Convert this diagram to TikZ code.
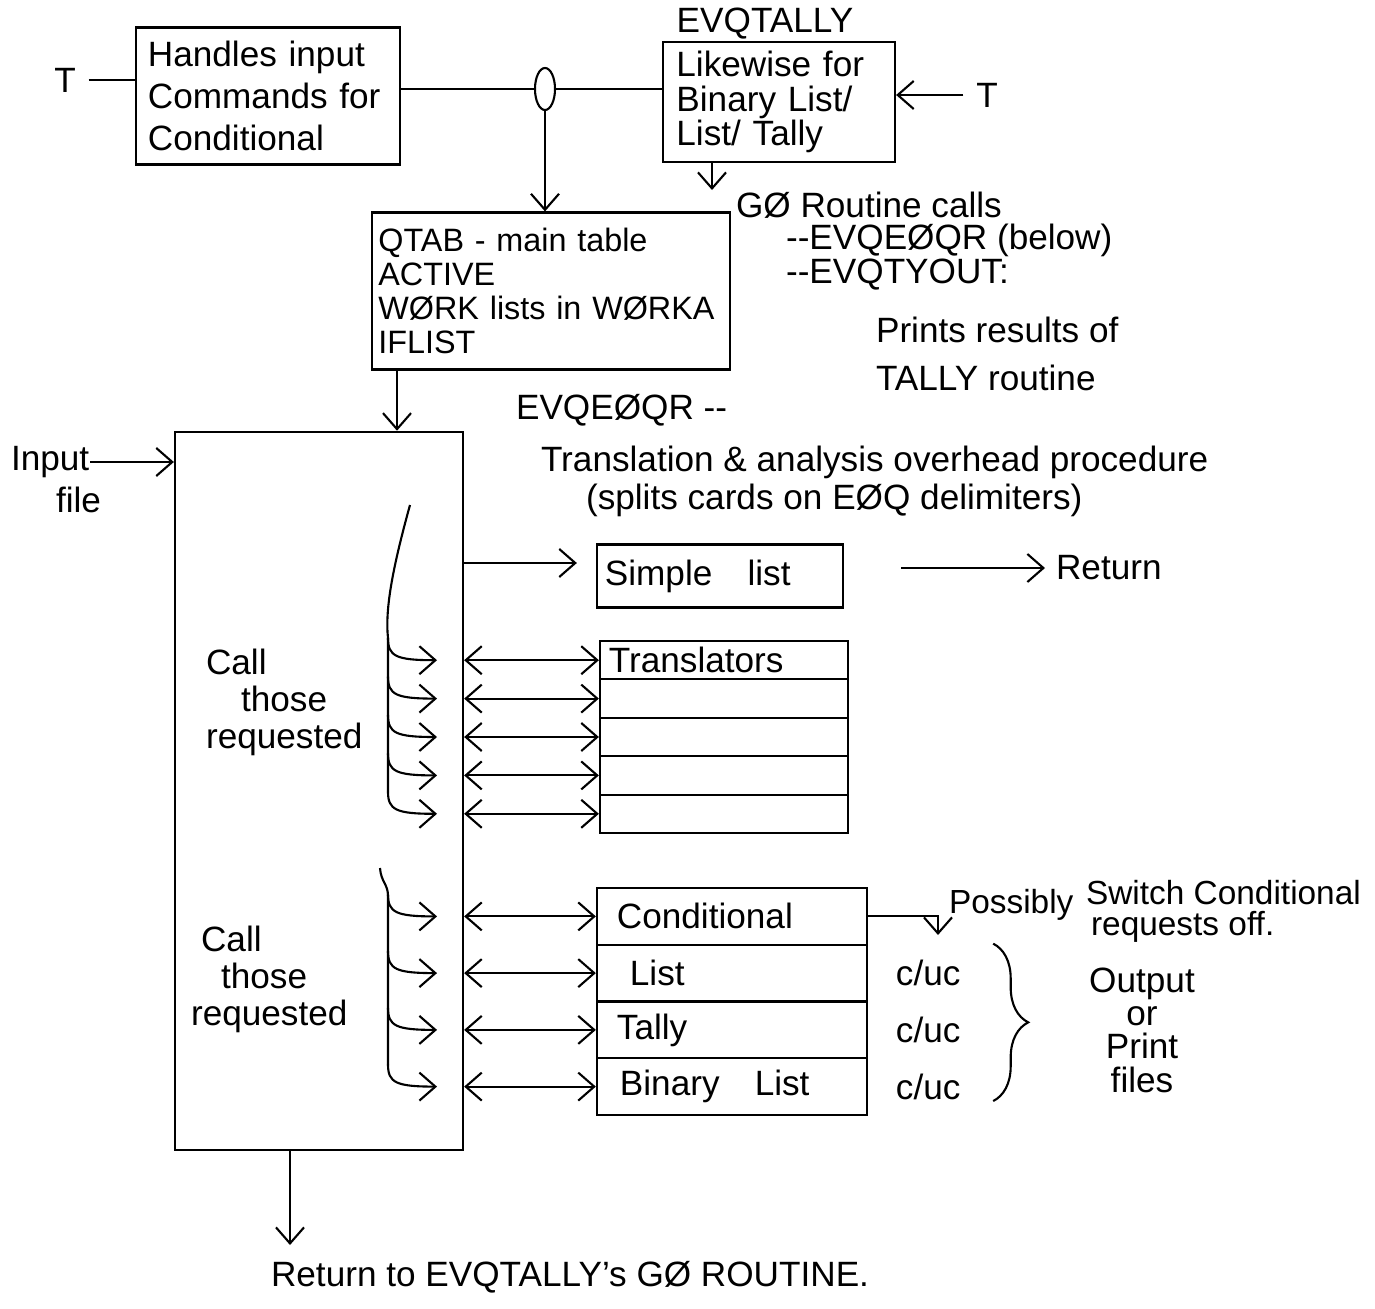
\documentclass[tikz,border=0pt]{standalone}
\usepackage{fontspec}
\setmainfont{Liberation Sans}
\usetikzlibrary{arrows.meta,shapes.geometric,decorations.pathreplacing}

\begin{document}
\begin{tikzpicture}[x=0.01cm,y=-0.01cm,line width=0.6pt,
  >={Straight Barb[length=1.6mm,width=2.8mm]},
  every node/.style={font=\fontsize{10}{12}\selectfont},
  box/.style={draw,inner ysep=0pt,inner xsep=0pt},
  lbl/.style={inner sep=0pt,anchor=west},
  row/.style={draw,inner sep=0pt,minimum width=2.48cm,minimum height=0.384cm,text width=2.3cm,align=left},
  orow/.style={draw,inner sep=0pt,minimum width=2.70cm,minimum height=0.5675cm,text width=2.3cm,align=left}]
\useasboundingbox (0,0) rectangle (1375,1309);

% top row
\node[box,minimum width=2.63cm,minimum height=1.37cm,text width=2.4cm,align=left] (hin) at (268,96) {Handles input\\Commands for\\Conditional};
\node (tleft) at (65,80) {T};
\node[draw,ellipse,inner sep=0pt,minimum width=0.2cm,minimum height=0.42cm] (jn) at (545,89) {};
\node[box,minimum width=2.32cm,minimum height=1.2cm,text width=2.05cm,align=left,font=\fontsize{10}{9.7}\selectfont] (tal) at (779,102) {Likewise for\\Binary List/\\List/ Tally};
\node (evq) at (765,24) {EVQTALLY};
\node (tright) at (987,95) {T};
\draw (tleft.east) -- (tleft.east -| hin.west);
\draw (jn.west -| hin.east) -- (jn.west);
\draw (jn.east) -- (jn.east -| tal.west);
\draw[->] (tright.west) -- (tright.west -| tal.east);
\coordinate (gocall) at (712,190);
\draw[->] (gocall |- tal.south) -- (gocall);

% GO routine notes
\node[lbl] (go) at (735,205) {GØ Routine calls};
\node[lbl] (goa) at (785,240) {-{}-EVQEØQR (below)};
\node[lbl] (gob) at (785,275) {-{}-EVQTYOUT:};
\node[lbl] (goc) at (875,330) {Prints results of};
\node[lbl] (god) at (875,378) {TALLY routine};

% tables
\node[box,minimum width=3.58cm,minimum height=1.57cm,text width=3.45cm,align=left,font=\fontsize{9.2}{9.6}\selectfont] (qtab) at (551,291) {QTAB - main table\\ACTIVE\\WØRK lists in WØRKA\\IFLIST};
\draw[->] (jn.south) -- (jn.south |- qtab.north);
\node[box,minimum width=2.88cm,minimum height=7.18cm] (main) at (319,791) {};
\coordinate (qm) at (397,400);
\draw[->] (qm |- qtab.south) -- (qm |- main.north);

\node[lbl] (eqr) at (515,410) {EVQEØQR -{}-};
\node[lbl] (trans) at (540,462) {Translation \& analysis overhead procedure};
\node[lbl] (splits) at (585,500) {(splits cards on EØQ delimiters)};

\node[lbl] (inp) at (10,462) {Input};
\node[lbl] (fil) at (55,500) {file};
\draw[->] (inp.east) -- (inp.east -| main.west);

% simple list
\node[box,minimum width=2.46cm,minimum height=0.63cm,text width=2.3cm,align=left] (slist) at (720,576) {Simple\hspace{1em}list};
\draw[->,shorten >=1.9mm] ([yshift=1.3mm]slist.west -| main.east) -- ([yshift=1.3mm]slist.west);
\node[lbl] (ret) at (1055,568) {Return};
\draw[->,shorten <=5.7mm,shorten >=1mm] (slist.east |- ret.west) -- (ret.west);

% translators
\node[row] (tr1) at (724,660.2) {Translators};
\foreach \i/\yc in {2/698.6,3/737,4/775.4,5/813.8}
  \node[row] (tr\i) at (724,\yc) {};
\foreach \i in {1,...,5}
  \draw[<->] (tr\i.west -| main.east) -- (tr\i.west);
\draw (410,505) .. controls (392,570) and (385,610) .. (388,638) -- (388,792);
\foreach \yc in {660.2,698.6,737,775.4,813.8}
  \draw[->] (388,\yc-22) .. controls (388,\yc-4) and (396,\yc) .. (437,\yc);
\node[lbl,anchor=north west,align=left,font=\fontsize{10}{10.5}\selectfont] (call1) at (205,648) {Call\\\hspace{3.5mm}those\\requested};

% output routines
\node[orow] (ot1) at (732,916.4) {Conditional};
\node[orow] (ot2) at (732,973.1) {\hspace{1.3mm}List};
\node[orow] (ot3) at (732,1029.9) {Tally};
\node[orow] (ot4) at (732,1086.6) {\hspace{0.3mm}Binary\hspace{1em}List};
\foreach \i in {1,...,4}
  \draw[<->] (ot\i.west -| main.east) -- (ot\i.west);
\draw (380,868) .. controls (381,882) and (388,884) .. (388,896) -- (388,1065);
\foreach \yc in {916.4,973.1,1029.9,1086.6}
  \draw[->] (388,\yc-22) .. controls (388,\yc-4) and (396,\yc) .. (437,\yc);
\node[lbl,anchor=north west,align=left,font=\fontsize{10}{10.5}\selectfont] (call2) at (190,925) {\hspace{1mm}Call\\\hspace{3mm}those\\requested};

\foreach \i in {2,3,4}
  \node (cu\i) at ([xshift=0.6cm]ot\i.east) {c/uc};
\draw[decorate,decoration={brace,amplitude=3.5mm}] ([xshift=1.25cm]ot2.north east) -- ([xshift=1.25cm,yshift=1.5mm]ot4.south east);
\node[align=center,font=\fontsize{10}{9.5}\selectfont] (outp) at (1142,1030) {Output\\or\\Print\\files};

\coordinate (sw) at (938,935);
\draw[->] (ot1.east) -| (sw);
\node[lbl,font=\fontsize{9.5}{11}\selectfont] (poss) at (948,905) {Possibly};
\node[lbl,font=\fontsize{9.5}{11}\selectfont] (swc) at (1085,893) {Switch Conditional};
\node[lbl,font=\fontsize{9.5}{11}\selectfont] (reqoff) at (1090,927) {requests off.};

% back to caller
\coordinate (rt) at (290,1245);
\draw[->] (main.south -| rt) -- (rt);
\node[lbl] (retgo) at (270,1277) {Return to EVQTALLY's GØ ROUTINE.};
\end{tikzpicture}
\end{document}
